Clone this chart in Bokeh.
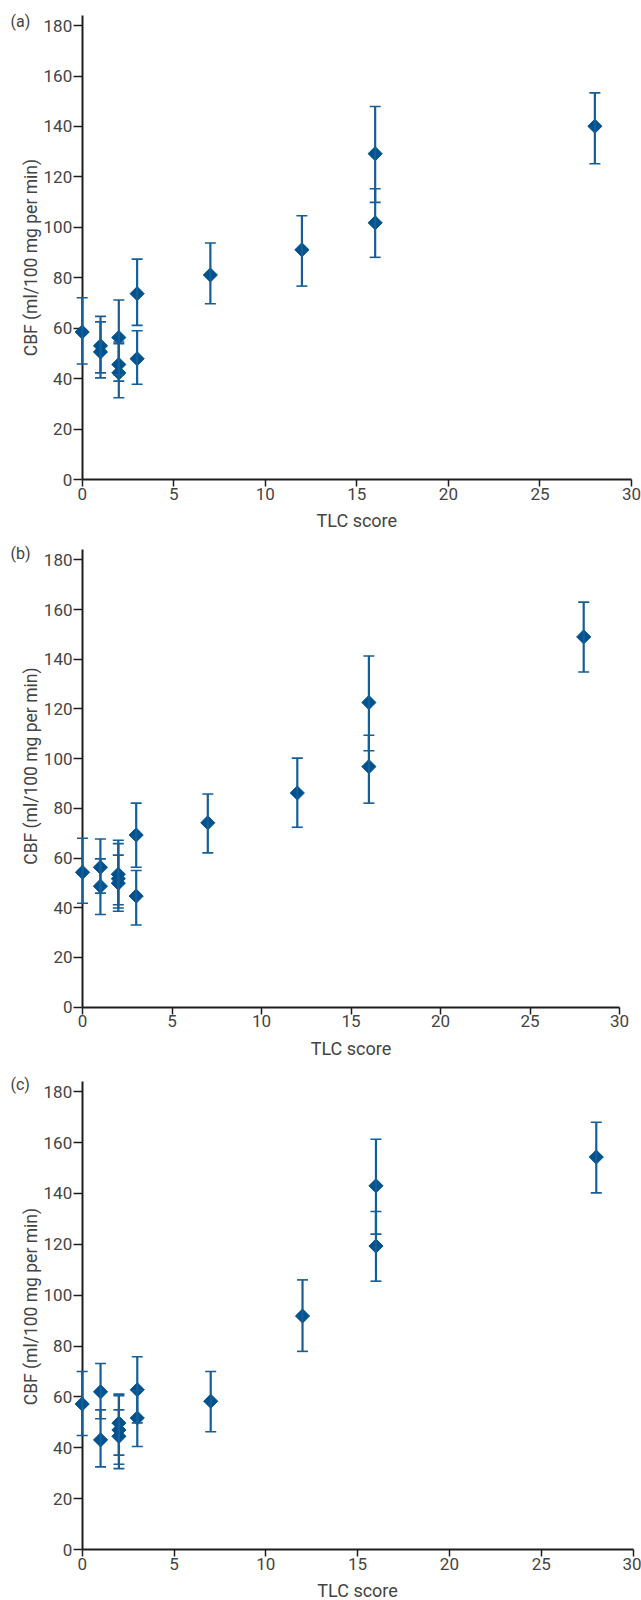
import math
from bokeh.plotting import figure
from bokeh.layouts import column
from bokeh.models import ColumnDataSource, Whisker, TeeHead, Label, FixedTicker, Range1d
from bokeh.embed import file_html
from bokeh.resources import INLINE

# ---------------- data ----------------
x_ticks = [0, 5, 10, 15, 20, 25, 30]
y_ticks = [0, 20, 40, 60, 80, 100, 120, 140, 160, 180]
x_title = "TLC score"
y_title = "CBF (ml/100 mg per min)"
panel_tags = ["(a)", "(b)", "(c)"]

tlc_a = [0, 1, 1, 2, 2, 2, 3, 3, 7, 12, 16, 16, 28]
cbf_a = [58.5, 53.0, 50.6, 56.3, 45.6, 42.3, 73.7, 47.9, 81.1, 91.1, 129.2, 101.8, 140.1]
upper_a = [72.1, 64.7, 62.5, 71.2, 53.9, 54.5, 87.4, 59.0, 93.8, 104.6, 147.9, 115.3, 153.3]
lower_a = [45.8, 42.3, 40.3, 41.5, 39.0, 32.4, 61.1, 37.8, 69.7, 76.7, 109.9, 88.1, 125.2]

tlc_b = [0, 1, 1, 2, 2, 2, 3, 3, 7, 12, 16, 16, 28]
cbf_b = [54.3, 56.3, 48.7, 53.5, 51.7, 49.9, 69.3, 44.7, 74.2, 86.2, 122.6, 96.8, 149.0]
upper_b = [68.0, 67.7, 59.7, 67.2, 65.8, 61.2, 82.1, 55.0, 85.8, 100.2, 141.3, 109.4, 163.0]
lower_b = [41.8, 45.9, 37.3, 39.9, 38.6, 41.2, 56.3, 33.1, 62.1, 72.4, 103.2, 82.1, 134.9]

tlc_c = [0, 1, 1, 2, 2, 2, 3, 3, 7, 12, 16, 16, 28]
cbf_c = [57.2, 62.0, 43.1, 49.7, 47.0, 44.5, 62.8, 51.7, 58.3, 91.8, 143.0, 119.3, 154.3]
upper_c = [70.0, 73.1, 54.9, 61.1, 60.5, 54.9, 75.8, 62.5, 70.0, 106.0, 161.3, 132.9, 168.0]
lower_c = [44.8, 51.4, 32.5, 37.1, 33.5, 31.8, 49.8, 40.5, 46.3, 77.9, 124.0, 105.5, 140.2]

# ---------------- style ----------------
MARK = "#00528e"
BAR = "#155e98"
TXT = "#444444"
AX = "#1e1e1e"
FONT = "Roboto"
FIG_W = 641
Y_TOP = 184


def make_panel(tlc, cbf, upper, lower, tag, fig_top, fig_h, frame_bottom, axis_top,
               x0_px, x30_px, ylab_y, tag_top):
    # the frame covers the whole canvas; axes are pinned to x=0 / y=0
    ypu = (frame_bottom - axis_top) / Y_TOP
    y_end = (frame_bottom - fig_top) / ypu
    y_start = -(fig_top + fig_h - frame_bottom) / ypu
    xpu = (x30_px - x0_px) / 30.0
    x_start = -x0_px / xpu
    x_end = x_start + FIG_W / xpu

    p = figure(width=FIG_W, height=fig_h,
               x_range=Range1d(x_start, x_end), y_range=Range1d(y_start, y_end),
               output_backend="svg", toolbar_location=None,
               min_border_left=0, min_border_right=0,
               min_border_top=0, min_border_bottom=0)
    p.outline_line_color = None
    p.xgrid.grid_line_color = None
    p.ygrid.grid_line_color = None
    p.background_fill_color = "white"

    for ax in (p.xaxis, p.yaxis):
        ax.axis_line_color = AX
        ax.axis_line_width = 2
        ax.major_tick_line_color = AX
        ax.major_tick_line_width = 1.5
        ax.minor_tick_line_color = None
        ax.major_label_text_font = FONT
        ax.major_label_text_font_size = "17px"
        ax.major_label_text_color = TXT
        ax.major_tick_in = 0

    p.xaxis.ticker = FixedTicker(ticks=x_ticks)
    p.xaxis.fixed_location = 0
    p.xaxis.bounds = (0, 30)
    p.xaxis.major_tick_out = 7
    p.xaxis.major_label_standoff = 1

    p.yaxis.ticker = FixedTicker(ticks=y_ticks)
    p.yaxis.fixed_location = 0
    p.yaxis.bounds = (0, Y_TOP)
    p.yaxis.major_tick_out = 9
    p.yaxis.major_label_standoff = 1

    src = ColumnDataSource(dict(x=tlc, y=cbf, upper=upper, lower=lower))
    w = Whisker(source=src, base="x", upper="upper", lower="lower",
                dimension="height", line_color=BAR, line_width=2.2, level="overlay",
                upper_head=TeeHead(size=11, line_color=BAR, line_width=1.6),
                lower_head=TeeHead(size=11, line_color=BAR, line_width=1.6))
    p.add_layout(w)
    p.scatter("x", "y", source=src, marker="square", angle=math.pi / 4,
              size=10, fill_color=MARK, line_color=MARK, level="overlay")

    # panel tag
    p.add_layout(Label(x=x_start + 10 / xpu, y=y_end - (tag_top - fig_top) / ypu,
                       text=tag, text_font=FONT, text_font_size="16px",
                       text_color=TXT, text_align="left", text_baseline="top"))
    # y-axis title
    p.add_layout(Label(x=x_start + 30 / xpu, y=ylab_y, text=y_title,
                       angle=math.pi / 2, text_font=FONT, text_font_size="17.5px",
                       text_color=TXT, text_align="center", text_baseline="middle"))
    # x-axis title
    p.add_layout(Label(x=15, y=-41 / ypu, text=x_title,
                       text_font=FONT, text_font_size="18px",
                       text_color=TXT, text_align="center", text_baseline="middle"))
    return p


pa = make_panel(tlc_a, cbf_a, upper_a, lower_a, panel_tags[0],
                0, 540, 479, 15, 81.7, 631, 88, 11)
pb = make_panel(tlc_b, cbf_b, upper_b, lower_b, panel_tags[1],
                540, 532, 1006.7, 549.4, 82, 619, 97, 543)
pc = make_panel(tlc_c, cbf_c, upper_c, lower_c, panel_tags[2],
                1072, 528, 1549, 1081, 81.7, 632.5, 95.5, 1074)

layout = column(pa, pb, pc, spacing=0)
open("out.html", "w").write(file_html(layout, INLINE))
